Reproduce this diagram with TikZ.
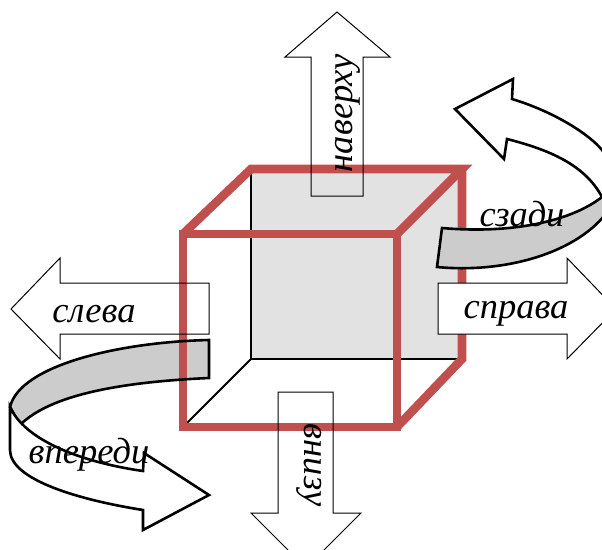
\documentclass[tikz,border=0pt]{standalone}
\usepackage{fontspec}
\setmainfont{Liberation Serif}
\definecolor{cubered}{RGB}{192,80,77}
\definecolor{facegray}{RGB}{226,226,226}
\definecolor{bandgray}{RGB}{204,204,204}
\tikzset{
  edgeline/.style={cubered, line width=8.6pt, line join=miter},
  backline/.style={black, line width=2pt},
  blockarrow/.style={black, line width=1pt, line join=miter},
  bandline/.style={black, line width=2.6pt, line join=miter},
  side/.style={font=\fontsize{36.5}{40}\itshape\selectfont, inner sep=0pt}
}
\begin{document}
\begin{tikzpicture}[x=1pt, y=-1pt]
  \useasboundingbox (0,0) rectangle (602,549);
  \clip (0,0) rectangle (602,549);
  % cube corners
  \coordinate (f-tl) at (183,234);
  \coordinate (f-tr) at (397,234);
  \coordinate (f-bl) at (183,427);
  \coordinate (f-br) at (397,427);
  \coordinate (b-tl) at (251,169);
  \coordinate (b-tr) at (462,169);
  \coordinate (b-bl) at (251,359);
  \coordinate (b-br) at (462,359);
  \fill[facegray] (b-tl) rectangle (b-br);
  % front band goes under the cube
  \fill[bandgray] (209,340) .. controls (120,342) and (20,365) .. (10,407)
    -- (20,425) .. controls (50,395) and (120,382) .. (209,378) -- cycle;
  \draw[backline] (b-tl) -- (b-bl) -- (b-br);
  \draw[backline] (b-bl) -- (f-bl);
  \draw[edgeline] (f-tl) -- (f-tr) -- (f-br) -- (f-bl) -- cycle;
  \draw[edgeline] (f-tl) -- (b-tl) -- (b-tr) -- (f-tr);
  \draw[edgeline] (b-tr) -- (b-br) -- (f-br);
  % direction arrows
  \draw[blockarrow] (337,12) -- (390,57) -- (363,57) -- (363,196) -- (311,196) -- (311,57) -- (285,57) -- cycle;
  \draw[blockarrow] (11,309) -- (60,258) -- (60,283) -- (209,283) -- (209,334) -- (60,334) -- (60,359) -- cycle;
  \draw[blockarrow] (306,568) -- (251,513) -- (278,513) -- (278,392) -- (333,392) -- (333,513) -- (361,513) -- cycle;
  \draw[blockarrow, fill=white] (616,309) -- (567,258) -- (567,283) -- (438,283) -- (438,334) -- (567,334) -- (567,359) -- cycle;
  % front turn
  \draw[bandline] (209,340) .. controls (120,342) and (20,365) .. (10,407)
    -- (20,425) .. controls (50,395) and (120,382) .. (209,378) -- cycle;
  \draw[bandline, fill=white] (10,407) .. controls (25,440) and (80,462) .. (143,471)
    -- (144,453) -- (209,495) -- (143,530) -- (143,510)
    .. controls (80,500) and (10,480) .. (10,450) -- cycle;
  % back turn
  \draw[bandline, fill=white] (602,197) .. controls (585,165) and (550,150) .. (507,139)
    -- (504,159) -- (455,109) -- (513,79) -- (512,99)
    .. controls (555,112) and (590,135) .. (602,150) .. controls (615,168) and (620,190) .. (612,205) -- cycle;
  \draw[bandline, fill=bandgray] (442,228) .. controls (510,234) and (570,222) .. (602,197)
    -- (612,205) .. controls (585,250) and (510,274) .. (437,267) -- cycle;
  % labels
  \node[side] (top) at (348,113) [rotate=90] {наверху};
  \node[side] (bottom) at (309,465) [rotate=-90] {внизу};
  \node[side] (left) at (94,314) {слева};
  \node[side] (right) at (516,314) {справа};
  \node[side] (back) at (522,214) {сзади};
  \node[side] (front) at (89,455) {впереди};
\end{tikzpicture}
\end{document}
